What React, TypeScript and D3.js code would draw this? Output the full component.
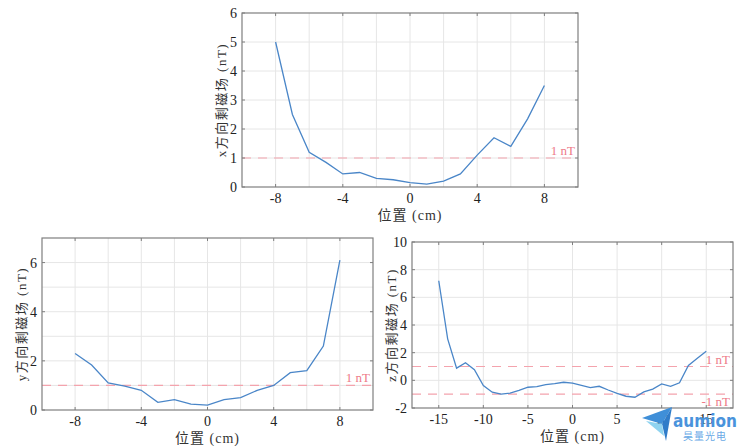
import * as d3 from "d3";
import React, { useRef, useEffect } from "react";

// positions (cm) and measured residual field (nT)
const posXY = [-8, -7, -6, -5, -4, -3, -2, -1, 0, 1, 2, 3, 4, 5, 6, 7, 8];
const bxValues = [5.0, 2.5, 1.2, 0.85, 0.45, 0.5, 0.3, 0.25, 0.15, 0.1, 0.2, 0.45, 1.1, 1.7, 1.4, 2.35, 3.5];
const byValues = [2.3, 1.83, 1.1, 0.97, 0.8, 0.31, 0.42, 0.24, 0.2, 0.42, 0.5, 0.8, 1.0, 1.52, 1.6, 2.6, 6.1];

const posZ = [
  -15, -14, -13, -12, -11, -10, -9, -8, -7, -6, -5, -4, -3, -2, -1, 0,
  1, 2, 3, 4, 5, 6, 7, 8, 9, 10, 11, 12, 13, 14, 15,
];
const bzValues = [
  7.2, 3.0, 0.88, 1.27, 0.77, -0.37, -0.86, -1.0, -0.92, -0.72, -0.5, -0.46, -0.31, -0.24, -0.14, -0.2,
  -0.36, -0.53, -0.43, -0.7, -0.95, -1.15, -1.22, -0.84, -0.63, -0.26, -0.43, -0.18, 1.08, 1.59, 2.1,
];

const tickXY = [-8, -4, 0, 4, 8];
const gridXY = [-8, -6, -4, -2, 0, 2, 4, 6, 8];
const tickBx = [0, 1, 2, 3, 4, 5, 6];
const tickBy = [0, 2, 4, 6];
const gridBy = [1, 2, 3, 4, 5, 6];
const tickZ = [-15, -10, -5, 0, 5, 10, 15];
const tickBz = [-2, 0, 2, 4, 6, 8, 10];

const serif = "Liberation Serif, Times New Roman, DejaVu Serif, Noto Sans CJK SC, serif";
const lineColor = "#4a86c8";
const limitColor = "#f4a3ad";
const limitText = "#ee7a88";

const drawPanel = (svg: any, cfg: any) => {
  const x = d3.scaleLinear().domain(cfg.xDomain).range([cfg.left, cfg.right]);
  const y = d3.scaleLinear().domain(cfg.yDomain).range([cfg.bottom, cfg.top]);
  const g = svg.append("g");

  // grid
  g.selectAll(".gx")
    .data(cfg.gridX)
    .enter()
    .append("line")
    .attr("x1", (d: number) => x(d))
    .attr("x2", (d: number) => x(d))
    .attr("y1", cfg.top)
    .attr("y2", cfg.bottom)
    .attr("stroke", "#e6e6e6");
  g.selectAll(".gy")
    .data(cfg.gridY)
    .enter()
    .append("line")
    .attr("x1", cfg.left)
    .attr("x2", cfg.right)
    .attr("y1", (d: number) => y(d))
    .attr("y2", (d: number) => y(d))
    .attr("stroke", "#e6e6e6");

  // limit lines
  cfg.limits.forEach((l: any) => {
    g.append("line")
      .attr("x1", cfg.left)
      .attr("x2", cfg.right)
      .attr("y1", y(l.v))
      .attr("y2", y(l.v))
      .attr("stroke", limitColor)
      .attr("stroke-width", 1.2)
      .attr("stroke-dasharray", "9,7");
    g.append("text")
      .attr("x", cfg.right - 3)
      .attr("y", l.above ? y(l.v) - 3 : y(l.v) + 12)
      .attr("text-anchor", "end")
      .attr("font-family", serif)
      .attr("font-size", 13)
      .attr("fill", limitText)
      .text(l.label);
  });

  // data line
  const line = d3
    .line<number>()
    .x((_d, i) => x(cfg.xs[i]))
    .y((d) => y(d));
  g.append("path")
    .datum(cfg.ys)
    .attr("d", line)
    .attr("fill", "none")
    .attr("stroke", lineColor)
    .attr("stroke-width", 1.3);

  // box
  g.append("rect")
    .attr("x", cfg.left)
    .attr("y", cfg.top)
    .attr("width", cfg.right - cfg.left)
    .attr("height", cfg.bottom - cfg.top)
    .attr("fill", "none")
    .attr("stroke", "#7f7f7f")
    .attr("stroke-width", 1.2);

  // inward ticks, all four sides
  cfg.ticksX.forEach((t: number) => {
    g.append("line").attr("x1", x(t)).attr("x2", x(t)).attr("y1", cfg.bottom).attr("y2", cfg.bottom - 3).attr("stroke", "#7f7f7f");
    g.append("line").attr("x1", x(t)).attr("x2", x(t)).attr("y1", cfg.top).attr("y2", cfg.top + 3).attr("stroke", "#7f7f7f");
  });
  cfg.ticksY.forEach((t: number) => {
    g.append("line").attr("x1", cfg.left).attr("x2", cfg.left + 3).attr("y1", y(t)).attr("y2", y(t)).attr("stroke", "#7f7f7f");
    g.append("line").attr("x1", cfg.right).attr("x2", cfg.right - 3).attr("y1", y(t)).attr("y2", y(t)).attr("stroke", "#7f7f7f");
  });

  // tick labels
  g.selectAll(".tx")
    .data(cfg.ticksX)
    .enter()
    .append("text")
    .attr("x", (d: number) => x(d))
    .attr("y", cfg.bottom + 16)
    .attr("text-anchor", "middle")
    .attr("font-family", serif)
    .attr("font-size", 14)
    .attr("fill", "#222")
    .text((d: number) => d);
  g.selectAll(".ty")
    .data(cfg.ticksY)
    .enter()
    .append("text")
    .attr("x", cfg.left - 5)
    .attr("y", (d: number) => y(d) + 5)
    .attr("text-anchor", "end")
    .attr("font-family", serif)
    .attr("font-size", 14)
    .attr("fill", "#222")
    .text((d: number) => d);

  // axis titles
  g.append("text")
    .attr("x", (cfg.left + cfg.right) / 2)
    .attr("y", cfg.bottom + 33)
    .attr("text-anchor", "middle")
    .attr("font-family", serif)
    .attr("font-size", 14)
    .attr("letter-spacing", 1)
    .attr("fill", "#333")
    .text("位置 (cm)");
  g.append("text")
    .attr("transform", `translate(${cfg.yLabelX},${(cfg.top + cfg.bottom) / 2}) rotate(-90)`)
    .attr("text-anchor", "middle")
    .attr("font-family", serif)
    .attr("font-size", 13)
    .attr("letter-spacing", 1.5)
    .attr("fill", "#333")
    .text(cfg.yLabel);
};

function App() {
  const ref = useRef<any>();
  useEffect(() => {
    const svg = d3.select(ref.current);
    svg.selectAll("*").remove();

    drawPanel(svg, {
      left: 242, right: 578, top: 13, bottom: 187,
      xDomain: [-10, 10], yDomain: [0, 6],
      xs: posXY, ys: bxValues,
      gridX: gridXY, gridY: [1, 2, 3, 4, 5],
      ticksX: tickXY, ticksY: tickBx,
      limits: [{ v: 1, label: "1 nT", above: true }],
      yLabel: "x方向剩磁场 (nT)", yLabelX: 226,
    });
    drawPanel(svg, {
      left: 42, right: 373, top: 238, bottom: 410,
      xDomain: [-10, 10], yDomain: [0, 7],
      xs: posXY, ys: byValues,
      gridX: gridXY, gridY: gridBy,
      ticksX: tickXY, ticksY: tickBy,
      limits: [{ v: 1, label: "1 nT", above: true }],
      yLabel: "y方向剩磁场 (nT)", yLabelX: 26,
    });
    drawPanel(svg, {
      left: 412, right: 733, top: 242, bottom: 408,
      xDomain: [-18, 18], yDomain: [-2, 10],
      xs: posZ, ys: bzValues,
      gridX: tickZ, gridY: [0, 2, 4, 6, 8],
      ticksX: tickZ, ticksY: tickBz,
      limits: [
        { v: 1, label: "1 nT", above: true },
        { v: -1, label: "-1 nT", above: false },
      ],
      yLabel: "z方向剩磁场 (nT)", yLabelX: 396,
    });

    // watermark
    const wm = svg.append("g");
    wm.append("polygon")
      .attr("points", "642,418 672,407 662,424")
      .attr("fill", "#3f8fd8");
    wm.append("polygon")
      .attr("points", "662,424 672,407 666,441")
      .attr("fill", "#2f7cc9");
    wm.append("polygon")
      .attr("points", "646,421 662,424 664,436")
      .attr("fill", "#8fd3f0");
    wm.append("text")
      .attr("x", 673)
      .attr("y", 427)
      .attr("font-family", "DejaVu Sans, sans-serif")
      .attr("font-weight", "bold")
      .attr("font-size", 18)
      .attr("textLength", 64)
      .attr("lengthAdjust", "spacingAndGlyphs")
      .attr("fill", "#4a93dc")
      .text("aumion");
    wm.append("text")
      .attr("x", 683)
      .attr("y", 440)
      .attr("font-family", "Noto Sans CJK SC, sans-serif")
      .attr("font-size", 10)
      .attr("letter-spacing", 1)
      .attr("fill", "#6aaae6")
      .text("昊量光电");
  }, []);

  return (
    <svg
      ref={ref}
      width={750}
      height={446}
      style={{ position: "absolute", left: 0, top: 0, background: "#fff" }}
    ></svg>
  );
}

export default App;
